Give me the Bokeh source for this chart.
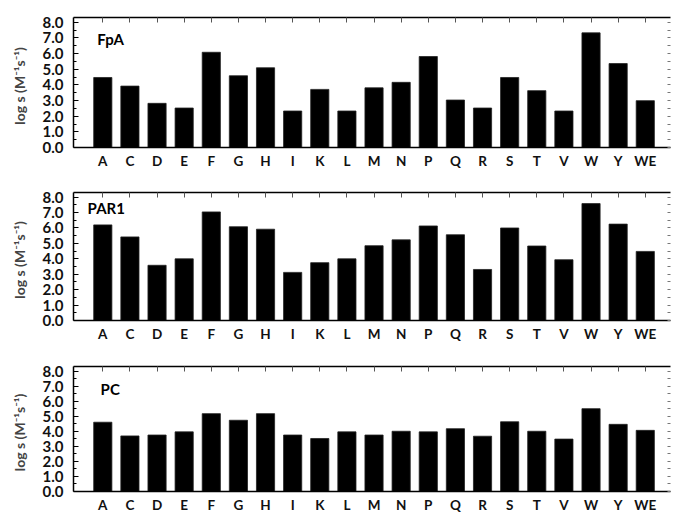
from bokeh.plotting import figure
from bokeh.layouts import column
from bokeh.models import FixedTicker, LinearAxis, Range1d, Label, ColumnDataSource
from bokeh.embed import file_html
from bokeh.resources import INLINE

categories = ["A", "C", "D", "E", "F", "G", "H", "I", "K", "L", "M",
              "N", "P", "Q", "R", "S", "T", "V", "W", "Y", "WE"]
fpa = [4.47, 3.92, 2.82, 2.52, 6.08, 4.58, 5.09, 2.33, 3.71, 2.33, 3.81,
       4.16, 5.81, 3.03, 2.52, 4.47, 3.63, 2.33, 7.32, 5.36, 2.99]
par1 = [6.2, 5.42, 3.58, 4.0, 7.04, 6.08, 5.92, 3.12, 3.75, 4.0, 4.85,
        5.23, 6.13, 5.56, 3.31, 6.0, 4.83, 3.94, 7.58, 6.25, 4.48]
pc = [4.6, 3.69, 3.75, 3.96, 5.17, 4.73, 5.17, 3.75, 3.52, 3.96, 3.75,
      4.0, 3.96, 4.17, 3.67, 4.63, 4.0, 3.48, 5.5, 4.46, 4.06]
panel_names = ["FpA", "PAR1", "PC"]
y_ticks = [0, 1, 2, 3, 4, 5, 6, 7, 8]
y_minor = [0.5, 1.5, 2.5, 3.5, 4.5, 5.5, 6.5, 7.5]
y_tick_labels = ["0.0", "1.0", "2.0", "3.0", "4.0", "5.0", "6.0", "7.0", "8.0"]
y_label = "log s   (M\u207b\u00b9s\u207b\u00b9)"

FONT = "Lato"
xs = list(range(len(categories)))


def make_panel(values, name, height, top, bottom, lx, ly):
    p = figure(width=672, height=height,
               x_range=Range1d(-1.08, 20.93), y_range=Range1d(0, 8.3),
               output_backend="svg", toolbar_location=None,
               min_border_left=73, min_border_right=2,
               min_border_top=top, min_border_bottom=bottom)
    p.grid.visible = False
    p.outline_line_color = None
    src = ColumnDataSource(dict(x=xs, top=values))
    p.vbar(x="x", top="top", width=0.67, source=src,
           fill_color="black", line_color="#222222", line_width=0.8)

    xa = p.xaxis[0]
    xa.ticker = FixedTicker(ticks=xs, minor_ticks=[])
    xa.major_label_overrides = {i: c for i, c in zip(xs, categories)}
    xa.major_tick_in = 0
    xa.major_tick_out = 0
    xa.minor_tick_in = 0
    xa.minor_tick_out = 0
    xa.axis_line_width = 1.5
    xa.major_label_standoff = 5
    xa.major_label_text_font = FONT
    xa.major_label_text_font_style = "bold"
    xa.major_label_text_font_size = "13.5px"
    xa.major_label_text_color = "#111111"

    ya = p.yaxis[0]
    ya.ticker = FixedTicker(ticks=y_ticks, minor_ticks=y_minor)
    ya.major_label_overrides = {t: l for t, l in zip(y_ticks, y_tick_labels)}
    ya.major_tick_in = 5
    ya.major_tick_out = 0
    ya.minor_tick_in = 3
    ya.minor_tick_out = 0
    ya.axis_line_width = 1.5
    ya.major_label_standoff = 10
    ya.major_label_text_font = FONT
    ya.major_label_text_font_style = "bold"
    ya.major_label_text_font_size = "15px"
    ya.major_label_text_color = "#111111"
    ya.axis_label = y_label
    ya.axis_label_text_font = FONT
    ya.axis_label_text_font_style = "bold"
    ya.axis_label_text_font_size = "14px"
    ya.axis_label_standoff = 12

    ta = LinearAxis(ticker=FixedTicker(ticks=xs, minor_ticks=[]))
    ta.major_label_text_color = None
    ta.major_label_text_alpha = 0
    ta.major_label_standoff = 0
    ta.major_tick_in = 5
    ta.major_tick_out = 0
    ta.minor_tick_in = 0
    ta.minor_tick_out = 0
    ta.axis_line_width = 1.5
    ta.major_tick_line_color = "#555555"
    p.add_layout(ta, "above")

    ra = LinearAxis(ticker=FixedTicker(ticks=y_ticks + y_minor, minor_ticks=[]))
    ra.major_label_text_color = None
    ra.major_label_text_alpha = 0
    ra.major_label_standoff = 0
    ra.major_tick_in = 3
    ra.major_tick_out = 0
    ra.minor_tick_in = 0
    ra.minor_tick_out = 0
    ra.axis_line_color = None
    ra.major_tick_line_color = "#777777"
    p.add_layout(ra, "right")

    p.add_layout(Label(x=lx, y=ly, text=name, text_font=FONT,
                       text_font_style="bold", text_font_size="15px",
                       text_color="black"))
    return p


p1 = make_panel(fpa, panel_names[0], 171, 17, 23, -0.2, 6.35)
p2 = make_panel(par1, panel_names[1], 173, 21, 23, -0.56, 6.7)
p3 = make_panel(pc, panel_names[2], 171, 22, 23, -0.08, 6.2)

layout = column(p1, p2, p3, spacing=0)
open("out.html", "w").write(file_html(layout, INLINE))
